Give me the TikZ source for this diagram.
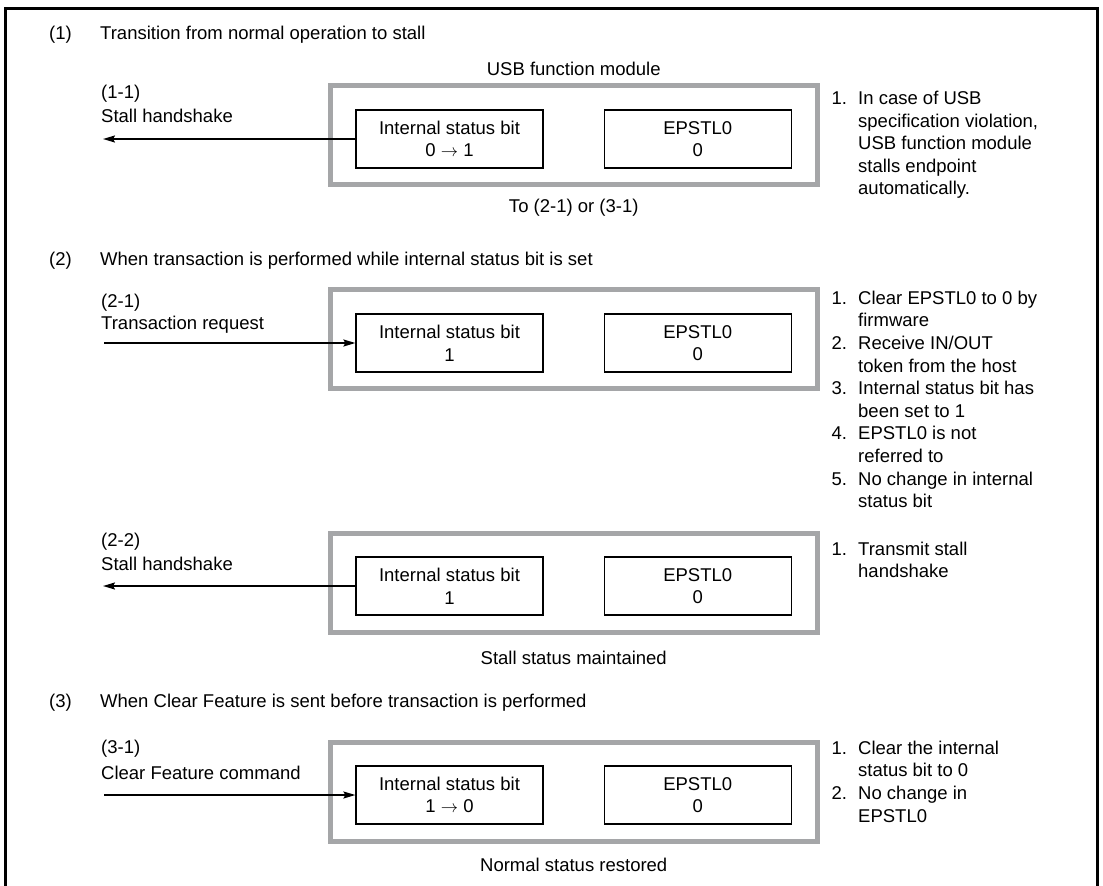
\documentclass[tikz,border=0pt]{standalone}
\usepackage{fontspec}
\setmainfont{Liberation Sans}
\usepackage{xcolor}
\usetikzlibrary{arrows.meta, positioning}
\definecolor{framegray}{HTML}{A5A6A8}
\newcommand\dgfont{\fontsize{18.5}{22.6}\selectfont}
\newcommand\noteno[1]{\makebox[26.5pt][l]{#1}}
\newcommand\notecont{\hspace*{26.5pt}}
\newcommand\secno[1]{\makebox[51pt][l]{#1}}
\tikzset{
	modframe/.style={draw=framegray, line width=5pt, minimum width=487.5pt,
		minimum height=99pt, inner sep=0pt},
	regbox/.style={draw=black, line width=1.2pt, minimum width=187pt,
		minimum height=58pt, align=center, inner sep=0pt},
	lbl/.style={inner sep=0pt, anchor=base west},
	captxt/.style={inner sep=0pt, anchor=base},
	note/.style={align=left, inner sep=0pt, anchor=north west},
	arr/.style={-{Stealth[length=12pt, width=7pt, inset=2pt]}, line width=1.8pt},
}

\begin{document}
\begin{tikzpicture}[x=1pt, y=-1pt, font=\dgfont]
		\useasboundingbox (0,0) rectangle (1103,886);
		\draw[line width=3pt] (5.5,900) -- (5.5,8.5) -- (1097.5,8.5) -- (1097.5,900);

		% (1) normal operation -> stall
		\node[lbl] (sec1) at (49,39) {\secno{(1)}Transition from normal operation to stall};
		\node[modframe] (mf1) at (573.75,135) {};
		\node[regbox] (isb1) at (449.5,139) {Internal status bit\\0 $\rightarrow$ 1};
		\node[regbox, right=60pt of isb1] (ep1) {EPSTL0\\0};
		\node[captxt] (usb1) at (573.75,75) {USB function module};
		\node[captxt] (to1) at (573.75,212) {To (2-1) or (3-1)};
		\node[lbl] (id11) at (101,98) {(1-1)};
		\node[lbl] (in11) at (101,122) {Stall handshake};
		\coordinate (h11) at (103,139);
		\draw[arr] (isb1.west) -- (h11);
		\node[note] (n1) at (831.5,91) {\noteno{1.}In case of USB\\
			\notecont specification violation,\\
			\notecont USB function module\\
			\notecont stalls endpoint\\
			\notecont automatically.};

		% (2) transaction while internal status bit is set
		\node[lbl] (sec2) at (49,265) {\secno{(2)}When transaction is performed while internal status bit is set};
		\node[modframe] (mf2) at (573.75,339) {};
		\node[regbox] (isb2) at (449.5,343) {Internal status bit\\1};
		\node[regbox, right=60pt of isb2] (ep2) {EPSTL0\\0};
		\node[lbl] (id21) at (101,307) {(2-1)};
		\node[lbl] (in21) at (101,329) {Transaction request};
		\coordinate (t21) at (104,343);
		\draw[arr] (t21) -- (isb2.west);
		\node[note] (n2) at (831.5,290.6) {\noteno{1.}Clear EPSTL0 to 0 by\\
			\notecont firmware\\
			\noteno{2.}Receive IN/OUT\\
			\notecont token from the host\\
			\noteno{3.}Internal status bit has\\
			\notecont been set to 1\\
			\noteno{4.}EPSTL0 is not\\
			\notecont referred to\\
			\noteno{5.}No change in internal\\
			\notecont status bit};

		% (2-2) stall kept
		\node[modframe] (mf3) at (573.75,583) {};
		\node[regbox] (isb3) at (449.5,586) {Internal status bit\\1};
		\node[regbox, right=60pt of isb3] (ep3) {EPSTL0\\0};
		\node[captxt] (kept3) at (573.75,664) {Stall status maintained};
		\node[lbl] (id22) at (101,546) {(2-2)};
		\node[lbl] (in22) at (101,570) {Stall handshake};
		\coordinate (h22) at (103,586);
		\draw[arr] (isb3.west) -- (h22);
		\node[note] (n3) at (831.5,541.6) {\noteno{1.}Transmit stall\\
			\notecont handshake};

		% (3) Clear Feature before transaction
		\node[lbl] (sec3) at (49,707) {\secno{(3)}When Clear Feature is sent before transaction is performed};
		\node[modframe] (mf4) at (573.75,792) {};
		\node[regbox] (isb4) at (449.5,795) {Internal status bit\\1 $\rightarrow$ 0};
		\node[regbox, right=60pt of isb4] (ep4) {EPSTL0\\0};
		\node[captxt] (back4) at (573.75,871) {Normal status restored};
		\node[lbl] (id31) at (101,753) {(3-1)};
		\node[lbl] (in31) at (101,779) {Clear Feature command};
		\coordinate (t31) at (104,795);
		\draw[arr] (t31) -- (isb4.west);
		\node[note] (n4) at (831.5,740.6) {\noteno{1.}Clear the internal\\
			\notecont status bit to 0\\
			\noteno{2.}No change in\\
			\notecont EPSTL0};
	\end{tikzpicture}
\end{document}
